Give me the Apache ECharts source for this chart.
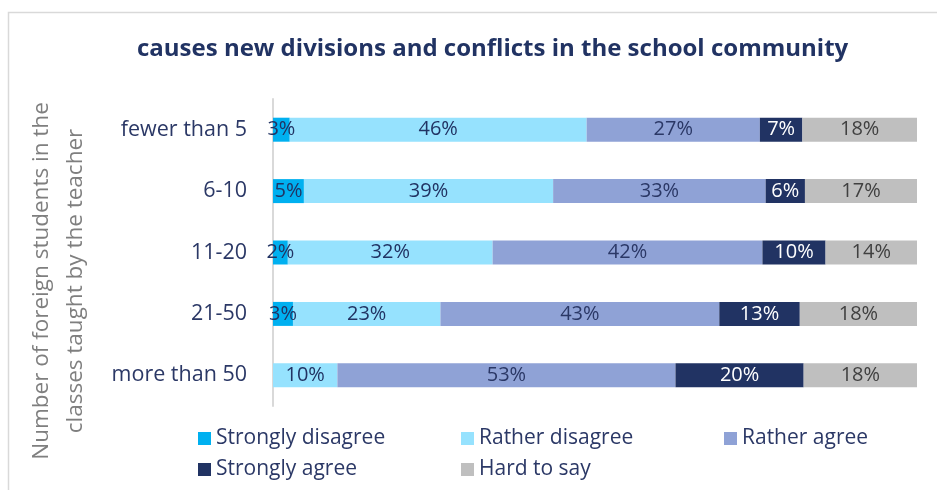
<!DOCTYPE html>
<html><head><meta charset="utf-8">
<script src="https://cdn.jsdelivr.net/npm/echarts@6/dist/echarts.min.js"></script>
<style>html,body{margin:0;padding:0;background:#fff}#c{width:937px;height:490px}</style>
</head><body><div id="c"></div>
<script>
const categories = ['fewer than 5', '6-10', '11-20', '21-50', 'more than 50'];
const seriesNames = ['Strongly disagree', 'Rather disagree', 'Rather agree', 'Strongly agree', 'Hard to say'];
const stronglyDisagree = [2.6, 4.8, 2.3, 3.1, 0];
const ratherDisagree = [46.1, 38.7, 31.8, 22.9, 10.0];
const ratherAgree = [26.9, 33.0, 41.9, 43.3, 52.5];
const stronglyAgree = [6.6, 6.1, 9.8, 12.5, 19.9];
const hardToSay = [17.8, 17.4, 14.2, 18.2, 17.6];
const titleText = 'causes new divisions and conflicts in the school community';
const yTitleLines = ['Number of foreign students in the', 'classes taught by the teacher'];

const colors = ['#00b0f0', '#96e2fe', '#8fa2d6', '#213363', '#bfbfbf'];
const labelColors = ['#213363', '#213363', '#2b3866', '#ffffff', '#404040'];
const values = [stronglyDisagree, ratherDisagree, ratherAgree, stronglyAgree, hardToSay];
const FONT = 'Open Sans';
const legendText = {fontFamily: FONT, fontSize: 21, color: '#2b3866'};

const chart = echarts.init(document.getElementById('c'), null, {renderer: 'canvas'});
chart.setOption({
  animation: false,
  textStyle: {fontFamily: FONT},
  title: {
    text: titleText, left: 132, top: 32,
    textStyle: {fontFamily: FONT, fontWeight: 'bold', fontSize: 24, color: '#213363'}
  },
  graphic: [
    {type: 'rect', left: 6, top: 10, shape: {width: 960, height: 500},
     style: {fill: 'none', stroke: '#d9d9d9', lineWidth: 1.5}, silent: true},
    {type: 'text', x: 42, y: 281, rotation: Math.PI / 2,
     style: {text: yTitleLines[0], fontFamily: FONT, fontSize: 22.5, fill: '#7f7f7f', align: 'center', verticalAlign: 'middle'}},
    {type: 'text', x: 76, y: 281, rotation: Math.PI / 2,
     style: {text: yTitleLines[1], fontFamily: FONT, fontSize: 22.5, fill: '#7f7f7f', align: 'center', verticalAlign: 'middle'}}
  ],
  legend: [
    {data: [seriesNames[0], seriesNames[3]], orient: 'vertical', left: 193, top: 423, itemGap: 10,
     itemWidth: 13, itemHeight: 13, icon: 'rect', textStyle: legendText},
    {data: [seriesNames[1], seriesNames[4]], orient: 'vertical', left: 456, top: 423, itemGap: 10,
     itemWidth: 13, itemHeight: 13, icon: 'rect', textStyle: legendText},
    {data: [seriesNames[2]], orient: 'vertical', left: 719, top: 423, itemGap: 10,
     itemWidth: 13, itemHeight: 13, icon: 'rect', textStyle: legendText}
  ],
  grid: {left: 273, right: 20, top: 99, bottom: 84, containLabel: false},
  xAxis: {type: 'value', min: 0, max: 100, show: false},
  yAxis: {
    type: 'category', data: categories, inverse: true,
    axisTick: {show: false},
    axisLine: {lineStyle: {color: '#d9d9d9', width: 2}},
    axisLabel: {fontFamily: FONT, fontSize: 21.5, color: '#2b3866', margin: 26}
  },
  series: values.map((v, i) => ({
    name: seriesNames[i], type: 'bar', stack: 'total', data: v,
    barWidth: 24,
    itemStyle: {color: colors[i]},
    label: {
      show: true, position: 'inside', fontFamily: FONT, fontSize: 20, color: labelColors[i],
      formatter: p => p.value > 0 ? Math.round(p.value) + '%' : ''
    }
  }))
});
</script></body></html>
